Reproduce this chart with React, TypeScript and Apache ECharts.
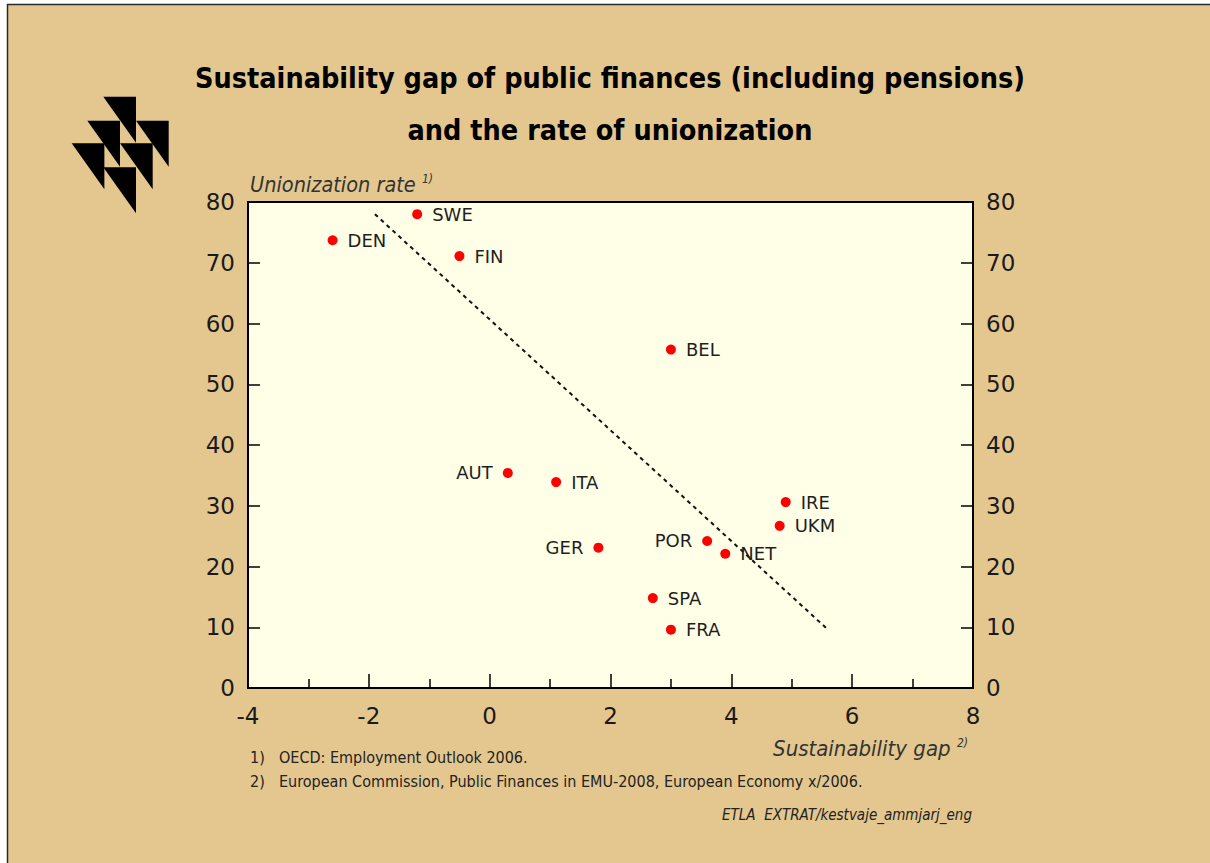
import React, { useEffect, useRef } from "react";
import * as echarts from "echarts";

const countries = ["SWE", "DEN", "FIN", "BEL", "AUT", "ITA", "GER", "POR", "NET", "IRE", "UKM", "SPA", "FRA"];
const gapValues = [-1.2, -2.6, -0.5, 3.0, 0.3, 1.1, 1.8, 3.6, 3.9, 4.9, 4.8, 2.7, 3.0];
const unionValues = [78, 73.7, 71.1, 55.7, 35.4, 33.9, 23.1, 24.2, 22.1, 30.6, 26.7, 14.8, 9.6];
const labelSides = ["right", "right", "right", "right", "left", "right", "left", "left", "right", "right", "right", "right", "right"];
const trendX = [-1.9, 5.6];
const trendY = [78, 9.6];
const yTicks = [0, 80, 10];
const xTicks = [-4, 8, 2];

const titleLines = [
  "Sustainability gap of public finances (including pensions)",
  "and the rate of unionization",
];
const footnotes = [
  ["1)", "OECD: Employment Outlook 2006."],
  ["2)", "European Commission, Public Finances in EMU-2008, European Economy x/2006."],
];
const sourceText = "ETLA  EXTRAT/kestvaje_ammjarj_eng";

const NARROW = "'Liberation Sans Narrow', 'DejaVu Sans Condensed', sans-serif";
const SANS = "'DejaVu Sans', sans-serif";

const logoTriangles = [
  [103.3, 96.7],
  [87.3, 120.7],
  [136, 120.7],
  [71.7, 143.3],
  [120, 143.3],
  [103.3, 167.3],
];

export default function App() {
  const ref = useRef<HTMLDivElement>(null);
  useEffect(() => {
    if (!ref.current) return;
    const chart = echarts.init(ref.current, null, { renderer: "svg" });

    const scatterData = countries.map((c, i) => ({
      name: c,
      value: [gapValues[i], unionValues[i]],
      label: { position: labelSides[i] },
    }));

    const graphics: any[] = [
      { type: "rect", shape: { x: 0, y: 0, width: 1210, height: 4 }, style: { fill: "#ffffff" }, z: 100 },
      { type: "rect", shape: { x: 0, y: 0, width: 7, height: 863 }, style: { fill: "#ffffff" }, z: 100 },
      { type: "line", shape: { x1: 7, y1: 4.5, x2: 1210, y2: 4.5 }, style: { stroke: "#2a2a2a", lineWidth: 1.5 }, z: 100 },
      { type: "line", shape: { x1: 7.5, y1: 4, x2: 7.5, y2: 863 }, style: { stroke: "#2a2a2a", lineWidth: 1.5 }, z: 100 },
    ];
    logoTriangles.forEach(([x, y]) => {
      graphics.push({
        type: "polygon",
        shape: { points: [[x, y], [x + 32.7, y], [x + 32.7, y + 46]] },
        style: { fill: "#000000" },
        z: 100,
      });
    });
    titleLines.forEach((t, i) => {
      graphics.push({
        type: "text",
        x: 610,
        y: 78 + i * 52,
        style: {
          text: t,
          fontFamily: NARROW,
          fontWeight: "bold",
          fontSize: 28.5,
          fill: "#000000",
          textAlign: "center",
          textVerticalAlign: "middle",
        },
        z: 100,
      });
    });
    graphics.push({
      type: "text",
      x: 250,
      y: 184,
      style: {
        text: "{m|Unionization rate }{s|1)}",
        textVerticalAlign: "middle",
        rich: {
          m: { fontFamily: NARROW, fontStyle: "italic", fontSize: 21.5, fill: "#333333" },
          s: { fontFamily: NARROW, fontStyle: "italic", fontSize: 12, fill: "#333333", padding: [0, 0, 10, 0] },
        },
      },
      z: 100,
    });
    graphics.push({
      type: "text",
      x: 968,
      y: 748,
      style: {
        text: "{m|Sustainability gap }{s|2)}",
        textAlign: "right",
        textVerticalAlign: "middle",
        rich: {
          m: { fontFamily: NARROW, fontStyle: "italic", fontSize: 22, fill: "#333333" },
          s: { fontFamily: NARROW, fontStyle: "italic", fontSize: 12, fill: "#333333", padding: [0, 0, 10, 0] },
        },
      },
      z: 100,
    });
    footnotes.forEach(([n, t], i) => {
      graphics.push({
        type: "text",
        x: 250,
        y: 757 + i * 24,
        style: { text: n, fontFamily: NARROW, fontSize: 16, fill: "#222222", textVerticalAlign: "middle" },
        z: 100,
      });
      graphics.push({
        type: "text",
        x: 279,
        y: 757 + i * 24,
        style: { text: t, fontFamily: NARROW, fontSize: 16, fill: "#222222", textVerticalAlign: "middle" },
        z: 100,
      });
    });
    graphics.push({
      type: "text",
      x: 972,
      y: 815,
      style: {
        text: sourceText,
        fontFamily: NARROW,
        fontStyle: "italic",
        fontSize: 15,
        fill: "#222222",
        textAlign: "right",
        textVerticalAlign: "middle",
      },
      z: 100,
    });

    const yAxisBase = (pos: "left" | "right") => ({
      type: "value",
      position: pos,
      min: yTicks[0],
      max: yTicks[1],
      interval: yTicks[2],
      axisLine: { show: true, onZero: false, lineStyle: { color: "#000", width: 2 } },
      axisTick: { show: true, inside: true, length: 12, lineStyle: { color: "#000", width: 1.5 } },
      axisLabel: { fontFamily: SANS, fontSize: 23, color: "#1a1a1a", margin: 13 },
      splitLine: { show: false },
    });

    chart.setOption({
      animation: false,
      backgroundColor: "#E3C78F",
      graphic: graphics,
      grid: {
        left: 248,
        right: 237,
        top: 202,
        bottom: 175,
        show: true,
        backgroundColor: "#FFFEE6",
        borderColor: "#000",
        borderWidth: 2,
      },
      xAxis: {
        type: "value",
        min: xTicks[0],
        max: xTicks[1],
        interval: xTicks[2],
        axisLine: { show: true, onZero: false, lineStyle: { color: "#000", width: 2 } },
        axisTick: { show: true, inside: true, length: 14, lineStyle: { color: "#000", width: 1.5 } },
        minorTick: { show: true, splitNumber: 2, length: 9, lineStyle: { color: "#000", width: 1.5 } },
        axisLabel: { fontFamily: SANS, fontSize: 23, color: "#1a1a1a", margin: 16 },
        splitLine: { show: false },
      },
      yAxis: [yAxisBase("left"), yAxisBase("right")],
      series: [
        {
          type: "line",
          data: trendX.map((x, i) => [x, trendY[i]]),
          symbol: "none",
          lineStyle: { color: "#111", width: 2, type: [4, 4] },
          z: 2,
        },
        {
          type: "scatter",
          data: scatterData,
          symbolSize: 10,
          itemStyle: { color: "#FF0000", opacity: 1 },
          label: {
            show: true,
            formatter: (p: any) => p.name,
            fontFamily: SANS,
            fontSize: 18,
            color: "#1e1e1e",
            distance: 10,
          },
          z: 3,
        },
      ],
    });
    return () => chart.dispose();
  }, []);

  return (
    <div
      ref={ref}
      style={{ position: "fixed", left: 0, top: 0, width: 1210, height: 863 }}
    />
  );
}
